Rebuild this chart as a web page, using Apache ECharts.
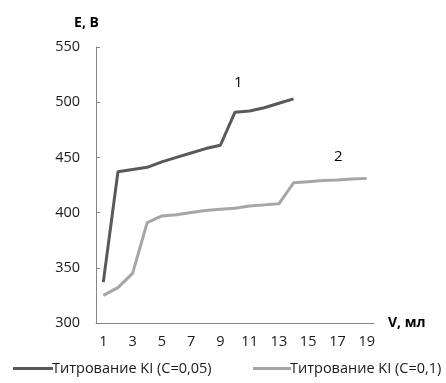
<!DOCTYPE html>
<html>
<head>
<meta charset="utf-8">
<script src="https://cdn.jsdelivr.net/npm/echarts@6/dist/echarts.min.js"></script>
<style>
  html, body { margin: 0; padding: 0; background: #fff; }
  #chart { width: 446px; height: 383px; }
</style>
</head>
<body>
<div id="chart"></div>
<script>
// volume, ml
var categories = ['1','2','3','4','5','6','7','8','9','10','11','12','13','14','15','16','17','18','19'];
// KI (C=0,05)
var seriesKI005 = [337, 437, 439, 441, 446, 450, 454, 458, 461, 491, 492, 495, 499, 503];
// KI (C=0,1)
var seriesKI01 = [325, 332, 345, 391, 397, 398, 400, 402, 403, 404, 406, 407, 408, 427, 428, 429, 429.5, 430.5, 431];
var seriesNames = ['Титрование KI (C=0,05)', 'Титрование KI (C=0,1)'];

var font = '"Open Sans", "Noto Sans", sans-serif';
var myChart = echarts.init(document.getElementById('chart'));

var option = {
    animation: false,
    color: ['#595959', '#a6a6a6'],
    textStyle: { fontFamily: font },
    grid: { left: 96, right: 72, top: 47, bottom: 60 },
    legend: [
        {
            data: [seriesNames[0]],
            left: 8, top: 356,
            itemWidth: 40, itemHeight: 3, icon: 'rect',
            textStyle: { fontFamily: font, fontSize: 14.5, color: '#1a1a1a', padding: [0, 0, 0, -6] }
        },
        {
            data: [seriesNames[1]],
            left: 248, top: 356,
            itemWidth: 38, itemHeight: 3, icon: 'rect',
            textStyle: { fontFamily: font, fontSize: 14.5, color: '#1a1a1a', padding: [0, 0, 0, -6] }
        }
    ],
    xAxis: {
        type: 'category',
        data: categories,
        boundaryGap: true,
        name: 'V, мл',
        nameLocation: 'end',
        nameGap: 14,
        nameTextStyle: { fontFamily: font, fontWeight: 'bold', fontSize: 14, color: '#000' },
        axisLine: { lineStyle: { color: '#868686', width: 1 } },
        axisTick: { inside: true, length: 5, alignWithLabel: false, lineStyle: { color: '#868686' } },
        axisLabel: { interval: 1, fontSize: 14.5, color: '#1a1a1a', margin: 11 },
        splitLine: { show: false }
    },
    yAxis: {
        type: 'value',
        min: 300, max: 550, interval: 50,
        name: 'E, B',
        nameLocation: 'end',
        nameGap: 17,
        nameTextStyle: { fontFamily: font, fontWeight: 'bold', fontSize: 14, color: '#000', align: 'right', padding: [0, -3, 0, 0] },
        axisLine: { show: true, lineStyle: { color: '#868686', width: 1 } },
        axisTick: { show: true, inside: true, length: 4, lineStyle: { color: '#868686' } },
        axisLabel: { fontSize: 14.5, color: '#1a1a1a', margin: 16 },
        splitLine: { show: false }
    },
    series: [
        {
            name: seriesNames[0],
            type: 'line',
            data: seriesKI005,
            symbol: 'none',
            lineStyle: { width: 3, color: '#595959' }
        },
        {
            name: seriesNames[1],
            type: 'line',
            data: seriesKI01,
            symbol: 'none',
            lineStyle: { width: 3, color: '#a6a6a6' }
        }
    ],
    graphic: [
        { type: 'text', left: 234, top: 75, style: { text: '1', fontFamily: font, fontSize: 15, fill: '#000' } },
        { type: 'text', left: 334, top: 149, style: { text: '2', fontFamily: font, fontSize: 15, fill: '#000' } }
    ]
};
myChart.setOption(option);
</script>
</body>
</html>
